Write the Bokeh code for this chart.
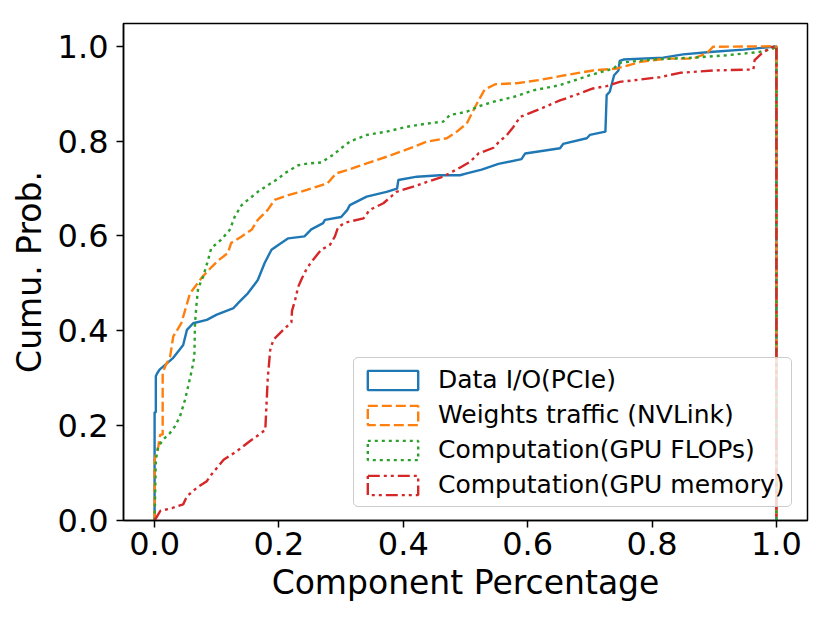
from bokeh.plotting import figure
from bokeh.models import Range1d, FixedTicker, Legend, LegendItem
from bokeh.embed import file_html
from bokeh.resources import INLINE

# ---- data ----
BIN_LO = 0.0
BIN_HI = 1.0

pcie_x = [0.0, 0.0, 0.002, 0.002, 0.004, 0.008, 0.030, 0.046, 0.052, 0.062, 0.084, 0.100,
          0.127, 0.137, 0.150, 0.166, 0.177, 0.188, 0.199, 0.215, 0.241, 0.252, 0.271,
          0.274, 0.300, 0.310, 0.314, 0.341, 0.373, 0.390, 0.392, 0.422, 0.459, 0.491,
          0.502, 0.526, 0.553, 0.590, 0.596, 0.652, 0.657, 0.695, 0.700, 0.725, 0.727,
          0.732, 0.739, 0.746, 0.748, 0.754, 0.818, 0.850, 0.893, 0.947, 0.995, 1.0]
pcie_y = [0.0, 0.228, 0.228, 0.304, 0.310, 0.318, 0.343, 0.370, 0.402, 0.416, 0.423, 0.434,
          0.448, 0.462, 0.479, 0.507, 0.543, 0.571, 0.581, 0.595, 0.599, 0.614, 0.627,
          0.634, 0.640, 0.655, 0.665, 0.683, 0.693, 0.700, 0.718, 0.725, 0.728, 0.728,
          0.732, 0.740, 0.752, 0.762, 0.774, 0.785, 0.794, 0.806, 0.813, 0.820, 0.897,
          0.904, 0.939, 0.949, 0.969, 0.972, 0.976, 0.983, 0.988, 0.993, 0.999, 1.0]

nvl_x = [0.0, 0.0, 0.006, 0.009, 0.013, 0.013, 0.017, 0.025, 0.030, 0.043, 0.057, 0.077,
         0.092, 0.103, 0.118, 0.123, 0.140, 0.156, 0.166, 0.182, 0.193, 0.215, 0.245,
         0.278, 0.292, 0.310, 0.341, 0.373, 0.411, 0.438, 0.470, 0.486, 0.502, 0.510,
         0.521, 0.531, 0.548, 0.582, 0.620, 0.652, 0.705, 0.743, 0.781, 0.823, 0.866,
         0.888, 0.898, 1.0]
nvl_y = [0.0, 0.128, 0.156, 0.181, 0.181, 0.310, 0.325, 0.346, 0.388, 0.416, 0.479, 0.514,
         0.535, 0.549, 0.564, 0.585, 0.599, 0.613, 0.634, 0.655, 0.676, 0.686, 0.697,
         0.711, 0.732, 0.739, 0.753, 0.767, 0.785, 0.799, 0.806, 0.820, 0.837, 0.858,
         0.886, 0.909, 0.920, 0.922, 0.929, 0.937, 0.949, 0.953, 0.967, 0.974, 0.974,
         0.985, 0.999, 1.0]

flop_x = [0.0, 0.002, 0.006, 0.014, 0.025, 0.033, 0.041, 0.049, 0.054, 0.060, 0.064, 0.065,
          0.067, 0.070, 0.078, 0.086, 0.091, 0.107, 0.121, 0.129, 0.140, 0.150, 0.166,
          0.182, 0.199, 0.209, 0.231, 0.247, 0.268, 0.287, 0.300, 0.314, 0.341, 0.373,
          0.405, 0.438, 0.464, 0.475, 0.502, 0.523, 0.545, 0.577, 0.609, 0.652, 0.668,
          0.700, 0.738, 0.748, 0.797, 0.866, 0.920, 0.973, 0.995, 1.0]
flop_y = [0.0, 0.128, 0.156, 0.171, 0.185, 0.199, 0.220, 0.255, 0.283, 0.318, 0.346, 0.416,
          0.450, 0.490, 0.514, 0.549, 0.574, 0.592, 0.613, 0.641, 0.665, 0.676, 0.693,
          0.707, 0.721, 0.732, 0.749, 0.753, 0.755, 0.771, 0.785, 0.799, 0.813, 0.820,
          0.830, 0.837, 0.841, 0.855, 0.862, 0.874, 0.883, 0.893, 0.907, 0.918, 0.925,
          0.939, 0.953, 0.965, 0.972, 0.976, 0.981, 0.988, 0.995, 1.0]

mem_x = [0.0, 0.009, 0.030, 0.046, 0.052, 0.068, 0.084, 0.089, 0.111, 0.132, 0.153, 0.175,
         0.178, 0.182, 0.186, 0.191, 0.207, 0.220, 0.221, 0.226, 0.231, 0.237, 0.245,
         0.255, 0.268, 0.282, 0.290, 0.295, 0.306, 0.336, 0.346, 0.368, 0.389, 0.416,
         0.438, 0.464, 0.491, 0.507, 0.521, 0.545, 0.555, 0.566, 0.577, 0.588, 0.609,
         0.631, 0.652, 0.668, 0.705, 0.727, 0.748, 0.770, 0.813, 0.845, 0.898, 0.963,
         0.965, 0.979, 0.995, 1.0]
mem_y = [0.0, 0.020, 0.027, 0.034, 0.051, 0.069, 0.083, 0.093, 0.128, 0.146, 0.167, 0.188,
         0.190, 0.300, 0.360, 0.381, 0.402, 0.418, 0.442, 0.465, 0.493, 0.511, 0.532,
         0.550, 0.571, 0.581, 0.599, 0.618, 0.628, 0.637, 0.655, 0.669, 0.693, 0.704,
         0.714, 0.725, 0.744, 0.756, 0.774, 0.786, 0.800, 0.812, 0.830, 0.851, 0.862,
         0.874, 0.886, 0.893, 0.911, 0.916, 0.925, 0.928, 0.935, 0.944, 0.949, 0.951,
         0.971, 0.988, 0.999, 1.0]

labels = ["Data I/O(PCIe)", "Weights traffic (NVLink)",
          "Computation(GPU FLOPs)", "Computation(GPU memory)"]
colors = ["#1f77b4", "#ff7f0e", "#2ca02c", "#d62728"]
dashes = ["solid", "10 4", "3 4", "12 4 3 4 3 4"]

x_ticks = [0.0, 0.2, 0.4, 0.6, 0.8, 1.0]
y_ticks = [0.0, 0.2, 0.4, 0.6, 0.8, 1.0]

FONT = "DejaVu Sans"
NAN = float("nan")

p = figure(width=822, height=606, output_backend="svg", toolbar_location=None,
           x_range=Range1d(-0.05, 1.05), y_range=Range1d(0.0, 1.048),
           min_border_left=123, min_border_right=15, min_border_top=23,
           min_border_bottom=86)

p.xgrid.visible = False
p.ygrid.visible = False
p.outline_line_color = "black"
p.outline_line_width = 1.5
p.background_fill_color = "white"

series = [(pcie_x, pcie_y), (nvl_x, nvl_y), (flop_x, flop_y), (mem_x, mem_y)]
items = []
for (xs, ys), lab, col, dash in zip(series, labels, colors, dashes):
    # step histogram outline closes down to zero at the last bin edge
    xx = [BIN_LO] + list(xs) + [BIN_HI]
    yy = [0.0] + list(ys) + [0.0]
    p.line(xx, yy, line_color=col, line_width=2.4, line_dash=dash)
    handle = p.quad(left=[NAN], right=[NAN], top=[NAN], bottom=[NAN], fill_alpha=0,
                    line_color=col, line_width=2.4, line_dash=dash)
    items.append(LegendItem(label=lab, renderers=[handle], index=0))

for ax, ticks in ((p.xaxis, x_ticks), (p.yaxis, y_ticks)):
    ax.ticker = FixedTicker(ticks=ticks)
    ax.major_label_overrides = {t: f"{t:.1f}" for t in ticks}
    ax.minor_tick_line_color = None
    ax.major_tick_in = 0
    ax.major_tick_out = 7
    ax.major_tick_line_width = 1.5
    ax.axis_line_width = 1.5
    ax.axis_line_color = "black"
    ax.major_label_text_font = FONT
    ax.major_label_text_font_size = "32px"
    ax.major_label_text_color = "black"
    ax.axis_label_text_font = FONT
    ax.axis_label_text_font_size = "33px"
    ax.axis_label_text_font_style = "normal"
    ax.axis_label_text_color = "black"

p.xaxis.axis_label = "Component Percentage"
p.yaxis.axis_label = "Cumu. Prob."
p.xaxis.major_label_standoff = 4
p.yaxis.major_label_standoff = 8
p.xaxis.axis_label_standoff = 5
p.yaxis.axis_label_standoff = 6

legend = Legend(items=items, location=(230, 13))
legend.label_text_font = FONT
legend.label_text_font_size = "25px"
legend.label_text_color = "black"
legend.glyph_width = 63
legend.glyph_height = 24
legend.label_standoff = 14
legend.label_height = 22
legend.spacing = 6
legend.padding = 7
legend.margin = 0
legend.border_line_color = "#cccccc"
legend.border_line_alpha = 1.0
legend.border_line_width = 1.5
legend.background_fill_alpha = 0.8
if "border_radius" in Legend.properties():
    legend.border_radius = 5
p.add_layout(legend)

open("out.html", "w").write(file_html(p, INLINE))
